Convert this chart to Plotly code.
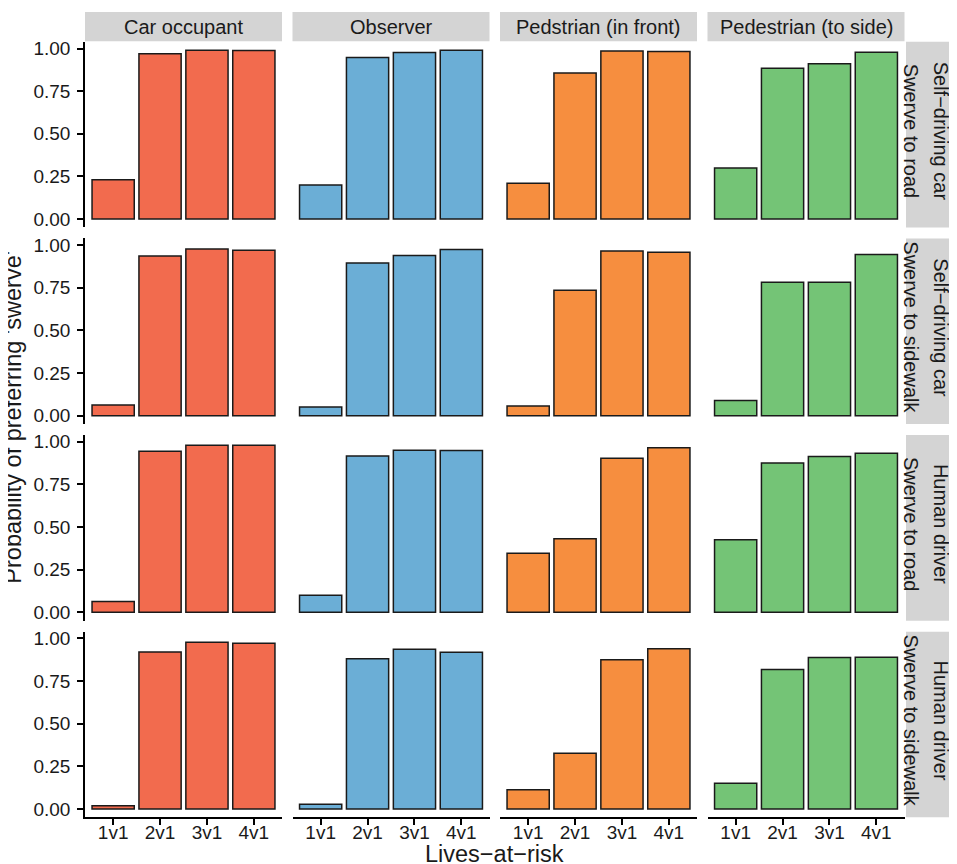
import plotly.graph_objects as go

# Data
lives = ['1v1', '2v1', '3v1', '4v1']
perspectives = ['Car occupant', 'Observer', 'Pedstrian (in front)', 'Pedestrian (to side)']
drivers = ['Self−driving car', 'Self−driving car', 'Human driver', 'Human driver']
swerves = ['Swerve to road', 'Swerve to sidewalk', 'Swerve to road', 'Swerve to sidewalk']
colors = ['#F26B4E', '#6BAED6', '#F68E3F', '#74C476']

# one list per perspective, in the order of `perspectives`
sd_road = [[0.231, 0.970, 0.990, 0.988],
           [0.200, 0.947, 0.976, 0.990],
           [0.210, 0.857, 0.986, 0.982],
           [0.300, 0.884, 0.910, 0.978]]
sd_sidewalk = [[0.063, 0.937, 0.978, 0.970],
               [0.051, 0.896, 0.939, 0.974],
               [0.057, 0.736, 0.965, 0.959],
               [0.089, 0.783, 0.783, 0.945]]
hd_road = [[0.063, 0.945, 0.980, 0.980],
           [0.100, 0.917, 0.951, 0.949],
           [0.346, 0.432, 0.904, 0.965],
           [0.426, 0.876, 0.914, 0.933]]
hd_sidewalk = [[0.018, 0.921, 0.978, 0.971],
               [0.028, 0.880, 0.937, 0.919],
               [0.112, 0.327, 0.875, 0.939],
               [0.151, 0.818, 0.888, 0.890]]
values = [sd_road, sd_sidewalk, hd_road, hd_sidewalk]

W, H = 957, 864
FONT = 'Liberation Sans'
TXT = '#1a1a1a'

# panel geometry in pixels
col_left = [77, 284.5, 492, 699.5]
col_w = 197
row_top = [30, 228, 426, 624]
row_h = 187
strip_h = 29.5

fig = go.Figure()
layout = {}
shapes = []
annotations = []

for r in range(4):
    for c in range(4):
        n = r * 4 + c + 1
        sfx = '' if n == 1 else str(n)
        fig.add_trace(go.Bar(
            x=lives, y=values[r][c],
            marker=dict(color=colors[c], line=dict(color=TXT, width=1.5)),
            xaxis='x' + sfx, yaxis='y' + sfx,
            showlegend=False, hoverinfo='x+y'))

        x0 = col_left[c] / W
        x1 = (col_left[c] + col_w) / W
        y1 = 1 - row_top[r] / H
        y0 = 1 - (row_top[r] + row_h) / H
        bottom = r == 3
        left = c == 0
        layout['xaxis' + sfx] = dict(
            domain=[x0, x1], anchor='y' + sfx, range=[-0.6, 3.6],
            showgrid=False, zeroline=False,
            showline=bottom, linecolor='black', linewidth=1.5,
            ticks='outside' if bottom else '', ticklen=6, tickwidth=1.5,
            tickcolor='black', showticklabels=bottom, ticklabelstandoff=-9,
            tickfont=dict(family=FONT, size=19, color=TXT))
        layout['yaxis' + sfx] = dict(
            domain=[y0, y1], anchor='x' + sfx, range=[-0.0495, 1.0395],
            showgrid=False, zeroline=False,
            tickvals=[0, 0.25, 0.5, 0.75, 1.0], tickformat='.2f',
            showline=left, linecolor='black', linewidth=1.5,
            ticks='outside' if left else '', ticklen=6, tickwidth=1.5,
            tickcolor='black', showticklabels=left, ticklabelstandoff=3,
            tickfont=dict(family=FONT, size=19, color=TXT))

# column strips
for c, name in enumerate(perspectives):
    shapes.append(dict(type='rect', xref='paper', yref='paper',
                       x0=col_left[c] / W, x1=(col_left[c] + col_w) / W,
                       y0=1 - strip_h / H, y1=1,
                       fillcolor='#D4D4D4', line=dict(width=0), layer='below'))
    annotations.append(dict(text=name, xref='paper', yref='paper',
                            x=(col_left[c] + col_w / 2) / W, y=1 - strip_h / 2 / H,
                            showarrow=False, xanchor='center', yanchor='middle',
                            font=dict(family=FONT, size=20, color=TXT)))

# row strips (two rotated lines each)
for r in range(4):
    yc = 1 - (row_top[r] + row_h / 2 - 4) / H
    shapes.append(dict(type='rect', xref='paper', yref='paper',
                       x0=898 / W, x1=1,
                       y0=1 - (row_top[r] + row_h) / H, y1=1 - row_top[r] / H,
                       fillcolor='#D4D4D4', line=dict(width=0), layer='below'))
    for text, xp in [(drivers[r], 933), (swerves[r], 903)]:
        annotations.append(dict(text=text, xref='paper', yref='paper',
                                x=xp / W, y=yc, showarrow=False, textangle=90,
                                xanchor='center', yanchor='middle',
                                font=dict(family=FONT, size=20, color=TXT)))

# axis titles
annotations.append(dict(text='Lives−at−risk', xref='paper', yref='paper',
                        x=(col_left[0] + col_left[3] + col_w) / 2 / W, y=1 - 848 / H,
                        showarrow=False, xanchor='center', yanchor='middle',
                        font=dict(family=FONT, size=23.5, color=TXT)))
annotations.append(dict(text="Probability of preferring 'swerve'", xref='paper', yref='paper',
                        x=5.5 / W, y=1 - 408 / H,
                        showarrow=False, textangle=-90, xanchor='center', yanchor='middle',
                        font=dict(family=FONT, size=23.5, color=TXT)))

fig.update_layout(
    width=W, height=H,
    margin=dict(l=0, r=0, t=0, b=0),
    plot_bgcolor='white', paper_bgcolor='white',
    bargap=0.1,
    shapes=shapes, annotations=annotations,
    **layout)

fig.write_html("out.html")
